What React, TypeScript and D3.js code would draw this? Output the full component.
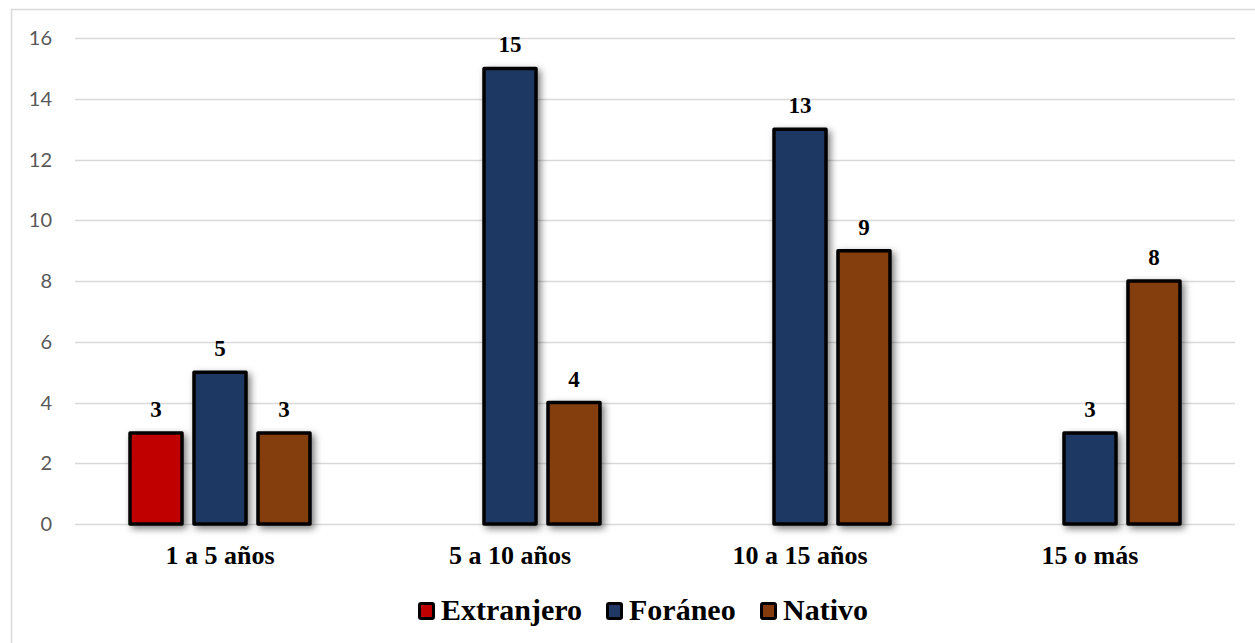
import { useEffect, useRef } from 'react';
import * as d3 from 'd3';

const categories = ['1 a 5 años', '5 a 10 años', '10 a 15 años', '15 o más'];
const seriesNames = ['Extranjero', 'Foráneo', 'Nativo'];
const extranjero: (number | null)[] = [3, null, null, null];
const foraneo: (number | null)[] = [5, 15, 13, 3];
const nativo: (number | null)[] = [3, 4, 9, 8];
const yTicks = [0, 2, 4, 6, 8, 10, 12, 14, 16];
const colors = ['#C00000', '#1F3864', '#843C0C'];

const WIDTH = 1255;
const HEIGHT = 643;

export default function App() {
  const svgRef = useRef<SVGSVGElement>(null);

  useEffect(() => {
    if (!svgRef.current) return;
    const svg = d3.select(svgRef.current);
    svg.selectAll('*').remove();

    const serif = '"Liberation Serif", "Times New Roman", serif';
    const sans = 'Lato, "Open Sans", sans-serif';

    // drop shadow for bars
    const defs = svg.append('defs');
    const f = defs.append('filter').attr('id', 'shadow')
      .attr('x', '-30%').attr('y', '-30%').attr('width', '160%').attr('height', '160%');
    f.append('feDropShadow')
      .attr('dx', 3).attr('dy', 3).attr('stdDeviation', 3.5)
      .attr('flood-color', '#000').attr('flood-opacity', 0.5);

    // chart frame (right/bottom edges run past the picture)
    svg.append('rect')
      .attr('x', 11.5).attr('y', 9.5).attr('width', 1260).attr('height', 650)
      .attr('fill', '#fff').attr('stroke', '#d9d9d9').attr('stroke-width', 1.5);

    const left = 75, right = 1235, top = 38, bottom = 524;

    const x = d3.scaleBand().domain(categories).range([left, right]);
    const xInner = d3.scaleBand().domain(seriesNames)
      .range([0, x.bandwidth()]).paddingInner(0.1875).paddingOuter(0.86);
    const y = d3.scaleLinear().domain([0, 16]).range([bottom, top]);

    // grid
    svg.append('g').selectAll('line').data(yTicks).enter().append('line')
      .attr('x1', left).attr('x2', right)
      .attr('y1', (d) => Math.round(y(d)) + 0.5).attr('y2', (d) => Math.round(y(d)) + 0.5)
      .attr('stroke', '#d9d9d9').attr('stroke-width', 1.5);

    // y tick labels
    svg.append('g').selectAll('text').data(yTicks).enter().append('text')
      .attr('x', 52).attr('y', (d) => y(d) + 7)
      .attr('text-anchor', 'end')
      .attr('font-family', sans).attr('font-size', 20).attr('fill', '#595959')
      .text((d) => String(d));

    const series = [extranjero, foraneo, nativo];
    const bars = series.flatMap((vals, si) =>
      vals.map((v, ci) => ({ v, si, cat: categories[ci], name: seriesNames[si] }))
    ).filter((d) => d.v != null) as { v: number; si: number; cat: string; name: string }[];

    const g = svg.append('g');
    g.selectAll('rect').data(bars).enter().append('rect')
      .attr('x', (d) => (x(d.cat) ?? 0) + (xInner(d.name) ?? 0))
      .attr('y', (d) => y(d.v))
      .attr('width', xInner.bandwidth())
      .attr('height', (d) => bottom - y(d.v))
      .attr('fill', (d) => colors[d.si])
      .attr('stroke', '#000').attr('stroke-width', 3.5)
      .attr('stroke-linejoin', 'round')
      .attr('filter', 'url(#shadow)');

    // value labels
    g.selectAll('text').data(bars).enter().append('text')
      .attr('x', (d) => (x(d.cat) ?? 0) + (xInner(d.name) ?? 0) + xInner.bandwidth() / 2)
      .attr('y', (d) => y(d.v) - 16)
      .attr('text-anchor', 'middle')
      .attr('font-family', serif).attr('font-weight', 'bold').attr('font-size', 23)
      .attr('fill', '#000')
      .text((d) => String(d.v));

    // category labels
    svg.append('g').selectAll('text').data(categories).enter().append('text')
      .attr('x', (d) => (x(d) ?? 0) + x.bandwidth() / 2)
      .attr('y', 564)
      .attr('text-anchor', 'middle')
      .attr('font-family', serif).attr('font-weight', 'bold').attr('font-size', 26)
      .attr('fill', '#000')
      .text((d) => d);

    // legend
    const legendX = [419, 607, 761];
    const lg = svg.append('g');
    seriesNames.forEach((name, i) => {
      lg.append('rect')
        .attr('x', legendX[i] + 0.5).attr('y', 603.5).attr('width', 14).attr('height', 15)
        .attr('fill', colors[i]).attr('stroke', '#000').attr('stroke-width', 3)
        .attr('rx', 1.5);
      lg.append('text')
        .attr('x', legendX[i] + 22).attr('y', 620)
        .attr('font-family', serif).attr('font-weight', 'bold').attr('font-size', 30)
        .attr('fill', '#000')
        .text(name);
    });
  }, []);

  return (
    <svg
      ref={svgRef}
      width={WIDTH}
      height={HEIGHT}
      style={{ position: 'absolute', left: 0, top: 0, display: 'block' }}
    />
  );
}
